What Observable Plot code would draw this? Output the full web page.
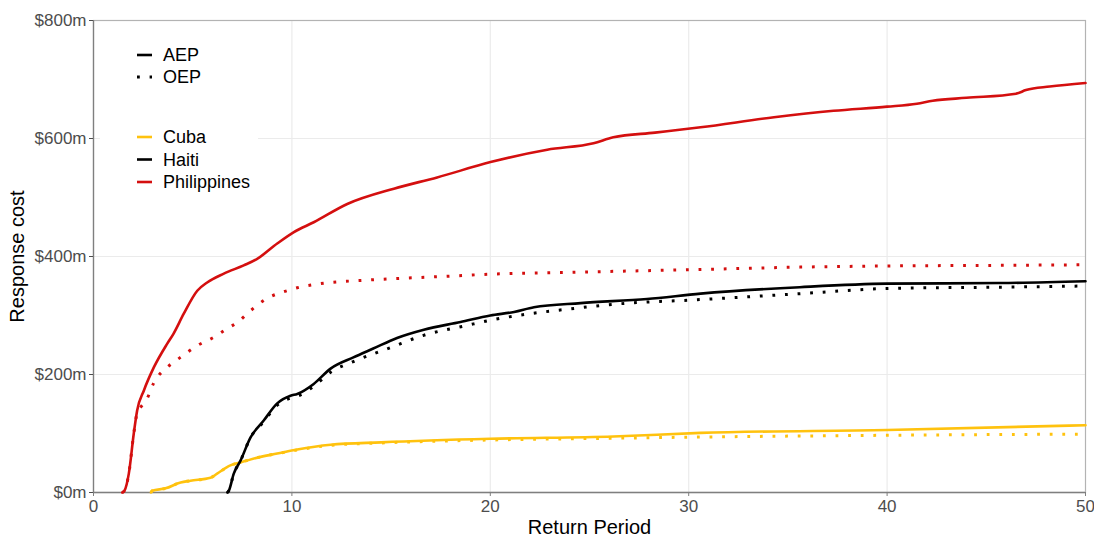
<!DOCTYPE html>
<html>
<head>
<meta charset="utf-8">
<script src="https://cdn.jsdelivr.net/npm/d3@7"></script>
<script src="https://cdn.jsdelivr.net/npm/@observablehq/plot@0.6"></script>
<style>
  body { margin: 0; background: #fff; font-family: "Liberation Sans", Arial, sans-serif; }
  #wrap { position: relative; width: 1094px; height: 538px; }
  #legend { position: absolute; left: 100px; top: 40px; width: 158px; height: 156px; background: #fff; }
</style>
</head>
<body>
<div id="wrap"><div id="chart"></div><div id="legend"></div></div>
<script>
// ---- data ----
const xTicks = [0, 10, 20, 30, 40, 50];
const yTicks = [0, 200, 400, 600, 800];
const countries = ["Cuba", "Haiti", "Philippines"];
const countryColors = ["#ffc20e", "#000000", "#d40f0f"];
const metrics = ["AEP", "OEP"];

const philAEP_x = [1.45, 1.56, 1.78, 2.03, 2.2, 2.54, 3.04, 3.71, 4.03, 4.55, 5.23, 5.73, 6.57, 7.57, 8.25, 9.26, 10.08, 11.1, 12.79, 15.14, 17.32, 20.01, 22.87, 25.2, 26.2, 28.3, 30.6, 34.3, 37.3, 40, 41.5, 42.3, 44, 46.5, 47, 48.2, 50];
const philAEP_y = [0, 3, 32, 100, 139, 173, 212, 252, 269, 303, 342, 356, 371, 385, 396, 422, 441, 458, 489, 515, 534, 560, 581, 592, 602, 610, 619, 636, 647, 654, 659, 664, 669, 676, 682, 688, 694];

const philOEP_x = [1.45, 1.56, 1.78, 2.03, 2.2, 2.37, 2.7, 3.04, 3.71, 4.38, 5.23, 6.05, 6.74, 7.24, 7.91, 8.75, 9.76, 10.27, 11.44, 13.8, 17.5, 20, 23.7, 27.9, 30.6, 35.6, 40.2, 45.7, 50];
const philOEP_y = [0, 3, 32, 100, 135, 144, 159, 186, 212, 229, 249, 263, 278, 288, 308, 329, 342, 347, 354, 360, 366, 370, 373, 376, 378, 382, 384, 385, 386];

const haitiAEP_x = [6.75, 6.82, 7.07, 7.41, 7.91, 8.58, 9.26, 9.93, 10.27, 11.1, 11.95, 13.1, 14.1, 15.3, 16.65, 18.5, 20, 21.2, 22.2, 24.55, 27.9, 30.6, 35.6, 40, 45.7, 50];
const haitiAEP_y = [0, 3, 32, 54, 93, 122, 151, 164, 167, 184, 210, 229, 244, 262, 276, 289, 300, 306, 314, 321, 328, 337, 348, 354, 355, 358];

const haitiOEP_x = [6.75, 6.82, 7.07, 7.41, 7.91, 8.58, 9.26, 9.93, 10.27, 11.1, 11.95, 13.1, 15, 16.6, 18.8, 20, 22, 23.7, 26.2, 30.6, 35.6, 40.2, 45.7, 50];
const haitiOEP_y = [0, 3, 32, 54, 93, 120, 148, 160, 163, 180, 204, 222, 246, 266, 283, 292, 303, 310, 319, 327, 337, 346, 348, 350];

const cubaAEP_x = [2.9, 2.96, 3.63, 4.39, 4.89, 5.9, 6.23, 6.9, 7.41, 8.25, 9.26, 10.27, 11.95, 14.5, 20, 26.2, 30.6, 40, 50];
const cubaAEP_y = [0, 3, 7, 17, 20, 25, 32, 46, 51, 59, 66, 73, 81, 85, 91, 95, 101, 106, 114];

const cubaOEP_x = [2.9, 2.96, 3.63, 4.39, 4.89, 5.9, 6.23, 6.9, 7.41, 8.25, 9.26, 10.27, 11.95, 14.5, 20, 26.2, 30.6, 40, 50];
const cubaOEP_y = [0, 3, 7, 17, 20, 25, 32, 46, 51, 59, 66, 72, 80, 84, 89, 92, 94, 97, 99];

// ---- build table ----
function rows(country, metric, xs, ys) {
  return xs.map((x, i) => ({country, metric, x, y: ys[i]}));
}
const series = [
  ["Cuba", "AEP", cubaAEP_x, cubaAEP_y],
  ["Cuba", "OEP", cubaOEP_x, cubaOEP_y],
  ["Haiti", "AEP", haitiAEP_x, haitiAEP_y],
  ["Haiti", "OEP", haitiOEP_x, haitiOEP_y],
  ["Philippines", "AEP", philAEP_x, philAEP_y],
  ["Philippines", "OEP", philOEP_x, philOEP_y]
];
const data = series.flatMap(s => rows(...s));
const aep = data.filter(d => d.metric === "AEP");
const oep = data.filter(d => d.metric === "OEP");

const tickColor = "#4d4d4d";
const dotPattern = "2.8 9.8";
const chart = Plot.plot({
  width: 1094,
  height: 538,
  marginTop: 20,
  marginBottom: 46,
  marginLeft: 93,
  marginRight: 9,
  style: {fontFamily: '"Liberation Sans", Arial, sans-serif', background: "#fff"},
  x: {domain: [0, 50], ticks: xTicks, label: null},
  y: {domain: [0, 800], ticks: yTicks, label: null},
  color: {domain: countries, range: countryColors},
  marks: [
    Plot.gridX(xTicks.slice(1, -1), {stroke: "#ebebeb", strokeOpacity: 1, strokeWidth: 1.2}),
    Plot.gridY(yTicks.slice(1, -1), {stroke: "#ebebeb", strokeOpacity: 1, strokeWidth: 1.2}),
    Plot.frame({stroke: "#b3b3b3", strokeWidth: 1.2}),
    Plot.ruleX([0], {stroke: "#7f7f7f", strokeWidth: 1.3}),
    Plot.ruleY([0], {stroke: "#7f7f7f", strokeWidth: 1.3}),
    Plot.axisX({ticks: xTicks, tickSize: 4, tickPadding: 3, fontSize: 17, color: tickColor, stroke: "#7f7f7f", label: null}),
    Plot.axisY({ticks: yTicks, tickSize: 4, tickPadding: 3, fontSize: 17, color: tickColor, tickFormat: d => `$${d}m`, label: null}),
    Plot.line(oep, {x: "x", y: "y", z: "country", stroke: "country", strokeWidth: 3, strokeDasharray: dotPattern, strokeLinecap: "butt", curve: "monotone-x"}),
    Plot.line(aep, {x: "x", y: "y", z: "country", stroke: "country", strokeWidth: 2.6, curve: "monotone-x"}),
    Plot.text(["Return Period"], {frameAnchor: "bottom", dy: 41, fontSize: 20, fill: "#000"}),
    Plot.text(["Response cost"], {frameAnchor: "left", textAnchor: "middle", dx: -76, rotate: -90, fontSize: 20, fill: "#000"})
  ]
});
document.getElementById("chart").appendChild(chart);

// ---- legend ----
const lg = d3.select("#legend").append("svg").attr("width", 158).attr("height", 156)
  .style("font-family", '"Liberation Sans", Arial, sans-serif');
const metricItems = lg.selectAll("g.m").data(metrics).join("g")
  .attr("transform", (d, i) => `translate(0, ${15 + i * 22})`);
metricItems.append("line").attr("x1", 37).attr("x2", 52).attr("y1", 0).attr("y2", 0)
  .attr("stroke", "#000").attr("stroke-width", (d, i) => i ? 3 : 2.6)
  .attr("stroke-dasharray", (d, i) => i ? "2.8 9.8" : null);
metricItems.append("text").attr("x", 63).attr("y", 0).attr("dy", "0.36em")
  .attr("font-size", 18).text(d => d);
const countryItems = lg.selectAll("g.c").data(countries).join("g")
  .attr("transform", (d, i) => `translate(0, ${97 + i * 22.5})`);
countryItems.append("line").attr("x1", 37).attr("x2", 52).attr("y1", 0).attr("y2", 0)
  .attr("stroke", (d, i) => countryColors[i]).attr("stroke-width", 2.6);
countryItems.append("text").attr("x", 63).attr("y", 0).attr("dy", "0.36em")
  .attr("font-size", 18).text(d => d);
</script>
</body>
</html>
